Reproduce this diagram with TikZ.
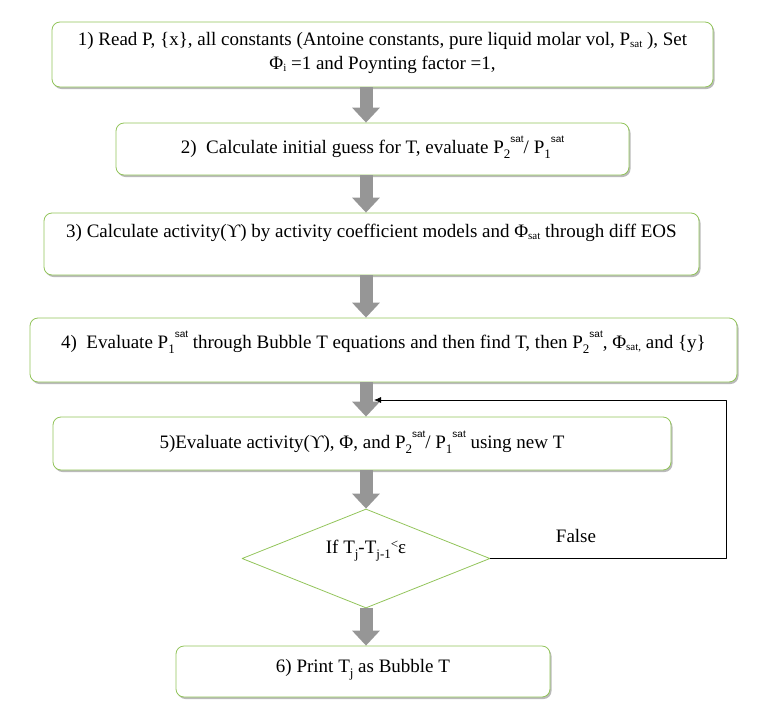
\documentclass[tikz,border=0pt]{standalone}
\usepackage{fontspec}
\setmainfont{Liberation Serif}
\setsansfont{Liberation Sans}
\usetikzlibrary{arrows.meta}
\usetikzlibrary{shapes.geometric}
\usetikzlibrary{shadows}
\usetikzlibrary{positioning}
\definecolor{boxgreen}{RGB}{146,196,90}
\definecolor{arrowgray}{RGB}{150,150,150}
\newcommand{\psat}[1]{P\raisebox{-0.55ex}{\fontsize{13}{13}\selectfont #1}\raisebox{1.25ex}{\sffamily\fontsize{10}{10}\selectfont sat}}
\newcommand{\lowsub}[1]{\raisebox{-0.25ex}{\fontsize{11}{11}\selectfont #1}}

\begin{document}
\begin{tikzpicture}[x=1pt,y=-1pt,line cap=round,line join=round,
    every node/.style={font=\fontsize{19}{24}\selectfont},
    stepbox/.style={draw=boxgreen,line width=0.8pt,rounded corners=8pt,fill=white,
        drop shadow={shadow xshift=1.5pt,shadow yshift=-2pt,fill=black!45,opacity=0.6}},
    txt/.style={align=center,inner sep=0pt},
    fatarrow/.style={draw=arrowgray,line width=13pt,line cap=butt,
        -{Triangle[width=27pt,length=15pt,fill=arrowgray]}},
    loop/.style={draw=black,line width=0.8pt,-{Latex[length=7pt,width=6pt]}}]
\useasboundingbox (0,0) rectangle (761,726);
% process boxes
\node[stepbox,minimum width=661,minimum height=65] (b1) at (382.5,54.5) {};
\node[txt] (t1) at (382.5,53) {1) Read P, \{x\}, all constants (Antoine constants, pure liquid molar vol, P\lowsub{sat} ), Set\\
    Φ\lowsub{i} =1 and Poynting factor =1,};
\node[stepbox,minimum width=513,minimum height=52] (b2) at (372.5,149) {};
\node[txt] (t2) at (372.5,147) {2)\ \ Calculate initial guess for T, evaluate \psat{2}/ \psat{1}};
\node[stepbox,minimum width=655,minimum height=62] (b3) at (371.5,244) {};
\node[txt] (t3) at (371.5,233) {3) Calculate activity(ϒ) by activity coefficient models and Φ\lowsub{sat} through diff EOS};
\node[stepbox,minimum width=707,minimum height=64] (b4) at (383.5,350) {};
\node[txt] (t4) at (383.5,342) {4)\ \ Evaluate \psat{1} through Bubble T equations and then find T, then \psat{2}, Φ\lowsub{sat,} and \{y\}};
\node[stepbox,minimum width=618,minimum height=53] (b5) at (362,443.5) {};
\node[txt] (t5) at (362,442) {5)Evaluate activity(ϒ), Φ, and \psat{2}/ \psat{1} using new T};
% decision
\node[draw=boxgreen,line width=0.8pt,diamond,aspect=2.5,minimum width=248,minimum height=99,inner sep=0pt] (dec) at (366,558.5) {};
\node[txt] (tdec) at (366,551) {If T\raisebox{-0.55ex}{\fontsize{13}{13}\selectfont j}-T\raisebox{-0.55ex}{\fontsize{13}{13}\selectfont j-1}\raisebox{0.6ex}{\fontsize{13}{13}\selectfont <}ε};
\node[stepbox,minimum width=374,minimum height=51] (b6) at (363,671.5) {};
\node[txt] (t6) at (363,670) {6) Print T\raisebox{-0.55ex}{\fontsize{13}{13}\selectfont j} as Bubble T};
% flow arrows
\draw[fatarrow] (dec.north |- b1.south) -- (dec.north |- b2.north);
\draw[fatarrow] (dec.north |- b2.south) -- (dec.north |- b3.north);
\draw[fatarrow] (dec.north |- b3.south) -- (dec.north |- b4.north);
\draw[fatarrow] (dec.north |- b4.south) -- (dec.north |- b5.north);
\draw[fatarrow] (dec.north |- b5.south) -- (dec.north);
\draw[fatarrow] (dec.south) -- (dec.south |- b6.north);
% loop back
\coordinate (corner) at (726,400);
\coordinate (back) at (374,400);
\draw[loop] (dec.east) -| (corner) -- (back);
\node (false) at (576,536) {False};
\end{tikzpicture}
\end{document}
